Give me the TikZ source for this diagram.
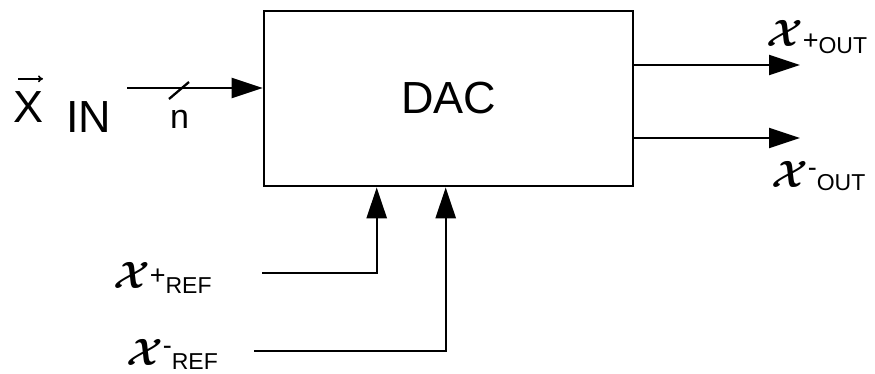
\RequirePackage{fix-cm}
\documentclass[tikz,border=0pt]{standalone}
\usepackage{amsmath}
\usepackage{bm}
\usepackage{fontspec}
\setmainfont{Liberation Sans}
\setsansfont{Liberation Sans}
\usetikzlibrary{arrows.meta, calc, positioning}

% script x with a raised sign and a text index
\newcommand{\sigtxt}[4]{%
    % #1 = raise of x, #2 = sign, #3 = raise of sign, #4 = index
    \raisebox{#1}{\fontsize{38}{40}\selectfont$\bm{\mathcal{X}}$}%
    \raisebox{#3}{\fontsize{27}{30}\selectfont#2}#4}

\begin{document}
\begin{tikzpicture}[
    x=1pt, y=-1pt,
    >={Triangle[length=31pt, width=20pt]},
    font=\sffamily,
    wire/.style={line width=2.3pt},
    sig/.style={->, line width=2.3pt},
    dacbox/.style={draw, line width=2.6pt, minimum width=369pt,
                   minimum height=175pt, inner sep=0pt,
                   font=\sffamily\fontsize{45}{50}\selectfont},
    lbl/.style={inner sep=0pt, anchor=base west,
                font=\sffamily\fontsize{23}{26}\selectfont},
    biglbl/.style={inner sep=0pt, anchor=base west,
                   font=\sffamily\fontsize{45}{50}\selectfont},
]
\useasboundingbox (0,0) rectangle (875,373);

% ── DAC block ──
\node[dacbox] (dac) at (448.5, 98.5) {DAC};

% ── digital input ──
\coordinate (xin) at (127, 88);
\draw[sig] (xin) -- (xin -| dac.west);
\draw[wire] (169, 99) -- (189, 82);
\node[biglbl] (xinx) at (13, 122) {X};
\draw[line width=1.6pt, -{To[length=5pt, width=7pt]}]
    ($(xinx.north west)+(5,-12)$) -- ++(25,0);
\node[biglbl] (xinsub) at (66, 132) {IN};
\node[lbl, font=\sffamily\fontsize{34}{40}\selectfont] (nbits) at (170, 128) {n};

% ── outputs ──
\coordinate (outp) at (800, 65);
\coordinate (outn) at (800, 138);
\draw[sig] (outp -| dac.east) -- (outp);
\draw[sig] (outn -| dac.east) -- (outn);
\node[lbl] (outplbl) at (766, 53) {\sigtxt{7pt}{+}{4pt}{OUT}};
\node[lbl] (outnlbl) at (771, 190) {\sigtxt{3pt}{-}{14pt}{OUT}};

% ── references ──
\coordinate (refp) at (262, 273);
\coordinate (refn) at (254, 351);
\coordinate (refpin) at ($(dac.south west)+(114,0)$);
\coordinate (refnin) at ($(dac.south west)+(183,0)$);
\draw[sig] (refp) -| (refpin);
\draw[sig] (refn) -| (refnin);
\node[lbl] (refplbl) at (113, 293) {\sigtxt{5pt}{+}{9pt}{REF}};
\node[lbl] (refnlbl) at (126, 369) {\sigtxt{4pt}{-}{15pt}{REF}};

\end{tikzpicture}
\end{document}
